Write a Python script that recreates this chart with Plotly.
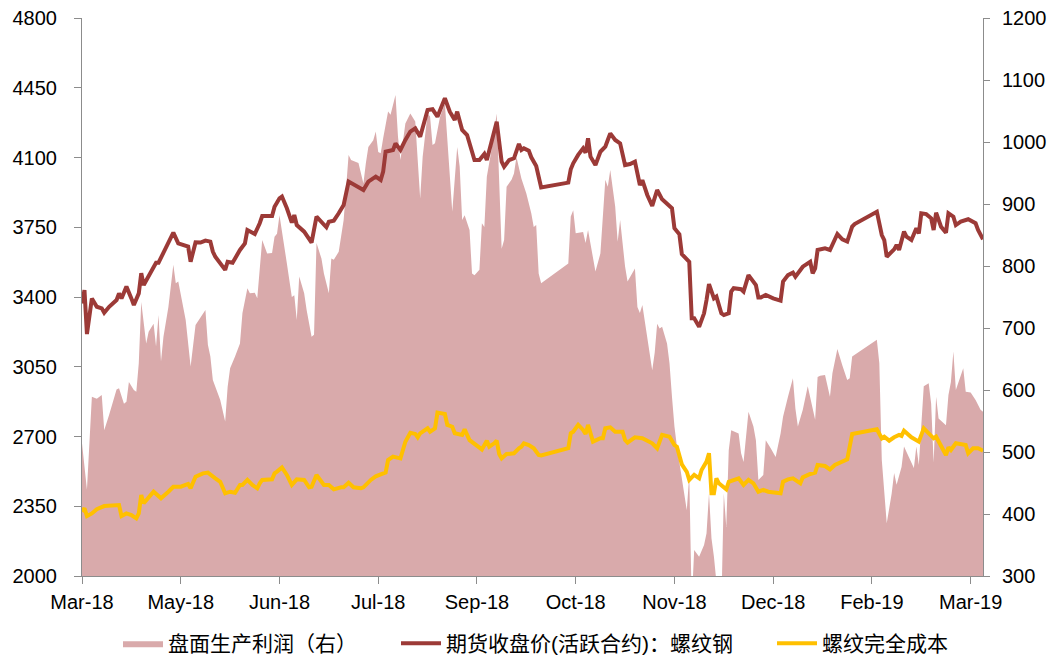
import plotly.graph_objects as go

# ---------------- data ----------------
profit_dates = [
    "2018-03-26", "2018-03-28", "2018-03-30", "2018-04-01", "2018-04-03", "2018-04-04", "2018-04-06",
    "2018-04-09", "2018-04-10", "2018-04-12", "2018-04-13", "2018-04-14", "2018-04-16", "2018-04-17",
    "2018-04-18", "2018-04-19", "2018-04-21", "2018-04-22", "2018-04-24", "2018-04-25", "2018-04-26",
    "2018-04-27", "2018-04-28", "2018-04-30", "2018-05-02", "2018-05-03", "2018-05-04", "2018-05-07",
    "2018-05-09", "2018-05-11", "2018-05-15", "2018-05-16", "2018-05-17", "2018-05-18", "2018-05-21",
    "2018-05-23", "2018-05-24", "2018-05-25", "2018-05-27", "2018-05-29", "2018-05-30", "2018-06-01",
    "2018-06-02", "2018-06-04", "2018-06-05", "2018-06-07", "2018-06-09", "2018-06-11", "2018-06-12",
    "2018-06-13", "2018-06-14", "2018-06-15", "2018-06-17", "2018-06-19", "2018-06-20", "2018-06-21",
    "2018-06-22", "2018-06-24", "2018-06-25", "2018-06-27", "2018-06-28", "2018-06-29", "2018-07-01",
    "2018-07-02", "2018-07-04", "2018-07-05", "2018-07-06", "2018-07-08", "2018-07-09", "2018-07-10",
    "2018-07-12", "2018-07-13", "2018-07-16", "2018-07-18", "2018-07-19", "2018-07-20", "2018-07-22",
    "2018-07-23", "2018-07-24", "2018-07-25", "2018-07-26", "2018-07-28", "2018-07-29", "2018-07-31",
    "2018-08-01", "2018-08-02", "2018-08-04", "2018-08-06", "2018-08-08", "2018-08-10", "2018-08-11",
    "2018-08-13", "2018-08-14", "2018-08-15", "2018-08-16", "2018-08-18", "2018-08-20", "2018-08-23",
    "2018-08-25", "2018-08-26", "2018-08-27", "2018-08-28", "2018-08-30", "2018-08-31", "2018-09-01",
    "2018-09-03", "2018-09-04", "2018-09-05", "2018-09-06", "2018-09-08", "2018-09-10", "2018-09-11",
    "2018-09-12", "2018-09-13", "2018-09-14", "2018-09-16", "2018-09-17", "2018-09-18", "2018-09-20",
    "2018-09-22", "2018-09-24", "2018-09-25", "2018-09-26", "2018-09-27", "2018-09-28", "2018-10-09",
    "2018-10-10", "2018-10-11", "2018-10-12", "2018-10-15", "2018-10-16", "2018-10-17", "2018-10-20",
    "2018-10-22", "2018-10-24", "2018-10-25", "2018-10-26", "2018-10-28", "2018-10-29", "2018-10-30",
    "2018-11-01", "2018-11-02", "2018-11-05", "2018-11-06", "2018-11-07", "2018-11-08", "2018-11-10",
    "2018-11-12", "2018-11-13", "2018-11-14", "2018-11-15", "2018-11-16", "2018-11-18", "2018-11-19",
    "2018-11-20", "2018-11-21", "2018-11-22", "2018-11-24", "2018-11-26", "2018-11-27", "2018-11-28",
    "2018-11-29", "2018-12-01", "2018-12-03", "2018-12-04", "2018-12-05", "2018-12-06", "2018-12-07",
    "2018-12-08", "2018-12-09", "2018-12-10", "2018-12-11", "2018-12-12", "2018-12-13", "2018-12-14",
    "2018-12-17", "2018-12-18", "2018-12-19", "2018-12-21", "2018-12-23", "2018-12-24", "2018-12-25",
    "2018-12-27", "2018-12-28", "2018-12-30", "2019-01-01", "2019-01-03", "2019-01-04", "2019-01-06",
    "2019-01-08", "2019-01-09", "2019-01-10", "2019-01-12", "2019-01-13", "2019-01-14", "2019-01-16",
    "2019-01-17", "2019-01-18", "2019-01-19", "2019-01-21", "2019-01-23", "2019-01-24", "2019-01-26",
    "2019-01-28", "2019-01-30", "2019-01-31", "2019-02-01", "2019-02-11", "2019-02-12", "2019-02-13",
    "2019-02-15", "2019-02-17", "2019-02-18", "2019-02-19", "2019-02-21", "2019-02-22", "2019-02-24",
    "2019-02-26", "2019-02-27", "2019-02-28", "2019-03-02", "2019-03-04", "2019-03-05", "2019-03-06",
    "2019-03-07", "2019-03-08", "2019-03-11", "2019-03-12", "2019-03-13", "2019-03-14", "2019-03-15",
    "2019-03-18", "2019-03-19", "2019-03-21", "2019-03-23", "2019-03-25", "2019-03-26",
]
profit_values = [
    514, 439, 589, 586, 592, 535, 560,
    601, 603, 578, 581, 613, 600, 597,
    643, 742, 675, 694, 707, 670, 721,
    646, 686, 734, 802, 772, 775, 713,
    638, 705, 729, 673, 654, 616, 584,
    549, 605, 635, 654, 675, 724, 764,
    756, 757, 748, 842, 820, 821, 847,
    852, 882, 858, 804, 750, 753, 713,
    783, 756, 729, 686, 689, 837, 812,
    788, 756, 812, 810, 823, 847, 874,
    979, 971, 966, 933, 966, 992, 1003,
    1017, 984, 982, 1006, 1049, 1044, 1076,
    1009, 971, 1030, 1046, 1033, 909, 976,
    1046, 1041, 995, 998, 1040, 1062, 888,
    992, 960, 874, 882, 858, 788, 785,
    794, 869, 863, 944, 990, 1046, 920,
    828, 842, 928, 939, 949, 976, 941,
    917, 885, 863, 866, 788, 772, 804,
    880, 890, 853, 855, 837, 858, 791,
    820, 939, 928, 955, 896, 839, 874,
    799, 775, 796, 734, 724, 737, 686,
    632, 660, 707, 699, 702, 675, 643,
    589, 541, 509, 455, 406, 463, 255,
    342, 331, 350, 369, 433, 361, 331,
    280, 250, 250, 433, 379, 503, 535,
    530, 498, 484, 565, 541, 519, 455,
    463, 519, 506, 492, 530, 557, 589,
    619, 570, 541, 568, 589, 606, 570,
    552, 621, 623, 624, 589, 627, 666,
    640, 616, 619, 654, 681, 643, 487,
    385, 433, 466, 447, 476, 509, 490,
    474, 509, 479, 606, 611, 578, 483,
    589, 554, 543, 592, 613, 662, 600,
    635, 597, 596, 584, 568, 565,
]

futures_dates = [
    "2018-03-26", "2018-03-27", "2018-03-28", "2018-03-30", "2018-04-01", "2018-04-03", "2018-04-04",
    "2018-04-06", "2018-04-09", "2018-04-10", "2018-04-11", "2018-04-13", "2018-04-15", "2018-04-16",
    "2018-04-18", "2018-04-19", "2018-04-20", "2018-04-22", "2018-04-24", "2018-04-25", "2018-04-26",
    "2018-04-28", "2018-04-30", "2018-05-02", "2018-05-04", "2018-05-06", "2018-05-08", "2018-05-09",
    "2018-05-11", "2018-05-13", "2018-05-15", "2018-05-17", "2018-05-18", "2018-05-19", "2018-05-21",
    "2018-05-23", "2018-05-24", "2018-05-26", "2018-05-29", "2018-05-31", "2018-06-01", "2018-06-04",
    "2018-06-06", "2018-06-07", "2018-06-11", "2018-06-12", "2018-06-14", "2018-06-15", "2018-06-17",
    "2018-06-19", "2018-06-20", "2018-06-21", "2018-06-24", "2018-06-26", "2018-06-27", "2018-06-29",
    "2018-07-01", "2018-07-03", "2018-07-04", "2018-07-06", "2018-07-08", "2018-07-10", "2018-07-12",
    "2018-07-15", "2018-07-18", "2018-07-20", "2018-07-23", "2018-07-25", "2018-07-26", "2018-07-27",
    "2018-07-30", "2018-07-31", "2018-08-02", "2018-08-04", "2018-08-06", "2018-08-08", "2018-08-10",
    "2018-08-13", "2018-08-15", "2018-08-17", "2018-08-20", "2018-08-22", "2018-08-24", "2018-08-25",
    "2018-08-27", "2018-08-29", "2018-08-31", "2018-09-01", "2018-09-03", "2018-09-05", "2018-09-06",
    "2018-09-08", "2018-09-10", "2018-09-12", "2018-09-13", "2018-09-15", "2018-09-17", "2018-09-19",
    "2018-09-20", "2018-09-21", "2018-09-23", "2018-09-24", "2018-09-26", "2018-09-28", "2018-10-09",
    "2018-10-10", "2018-10-11", "2018-10-13", "2018-10-15", "2018-10-16", "2018-10-17", "2018-10-18",
    "2018-10-20", "2018-10-22", "2018-10-24", "2018-10-25", "2018-10-26", "2018-10-28", "2018-10-30",
    "2018-11-01", "2018-11-03", "2018-11-05", "2018-11-07", "2018-11-08", "2018-11-10", "2018-11-12",
    "2018-11-14", "2018-11-16", "2018-11-18", "2018-11-20", "2018-11-21", "2018-11-22", "2018-11-23",
    "2018-11-24", "2018-11-26", "2018-11-27", "2018-11-28", "2018-11-29", "2018-12-01", "2018-12-03",
    "2018-12-04", "2018-12-05", "2018-12-07", "2018-12-08", "2018-12-10", "2018-12-11", "2018-12-13",
    "2018-12-14", "2018-12-15", "2018-12-18", "2018-12-19", "2018-12-21", "2018-12-24", "2018-12-25",
    "2018-12-26", "2018-12-28", "2018-12-31", "2019-01-03", "2019-01-04", "2019-01-06", "2019-01-08",
    "2019-01-09", "2019-01-12", "2019-01-15", "2019-01-16", "2019-01-17", "2019-01-18", "2019-01-21",
    "2019-01-23", "2019-01-24", "2019-01-26", "2019-01-28", "2019-01-30", "2019-02-01", "2019-02-02",
    "2019-02-11", "2019-02-13", "2019-02-14", "2019-02-15", "2019-02-18", "2019-02-19", "2019-02-20",
    "2019-02-22", "2019-02-23", "2019-02-25", "2019-02-27", "2019-02-28", "2019-03-01", "2019-03-03",
    "2019-03-05", "2019-03-06", "2019-03-07", "2019-03-09", "2019-03-11", "2019-03-12", "2019-03-14",
    "2019-03-15", "2019-03-17", "2019-03-20", "2019-03-23", "2019-03-24", "2019-03-26",
]
futures_values = [
    3368, 3435, 3214, 3393, 3351, 3343, 3321,
    3351, 3385, 3418, 3393, 3452, 3393, 3360,
    3418, 3519, 3460, 3502, 3552, 3572, 3572,
    3619, 3669, 3723, 3669, 3661, 3653, 3577,
    3674, 3673, 3683, 3678, 3628, 3602, 3569,
    3536, 3577, 3572, 3636, 3669, 3736, 3716,
    3770, 3806, 3806, 3853, 3895, 3904, 3845,
    3773, 3811, 3761, 3728, 3686, 3673, 3803,
    3778, 3750, 3778, 3783, 3820, 3862, 3979,
    3957, 3937, 3979, 4004, 3987, 4029, 4129,
    4138, 4171, 4138, 4188, 4230, 4246, 4204,
    4338, 4342, 4305, 4397, 4330, 4288, 4330,
    4238, 4213, 4121, 4087, 4087, 4118, 4087,
    4179, 4280, 4079, 4054, 4087, 4096, 4168,
    4138, 4146, 4134, 4101, 4057, 3950, 3974,
    4041, 4071, 4113, 4146, 4124, 4196, 4104,
    4062, 4129, 4154, 4188, 4221, 4188, 4171,
    4062, 4067, 4079, 3962, 3987, 3912, 3857,
    3937, 3890, 3870, 3845, 3745, 3728, 3715,
    3615, 3586, 3577, 3293, 3293, 3251, 3318,
    3385, 3465, 3393, 3402, 3318, 3310, 3318,
    3427, 3444, 3439, 3427, 3510, 3460, 3398,
    3398, 3410, 3393, 3382, 3477, 3510, 3522,
    3502, 3552, 3577, 3519, 3544, 3636, 3644,
    3636, 3661, 3716, 3689, 3678, 3753, 3766,
    3828, 3711, 3686, 3602, 3639, 3661, 3636,
    3728, 3703, 3686, 3745, 3719, 3820, 3816,
    3795, 3736, 3823, 3753, 3723, 3820, 3803,
    3761, 3778, 3790, 3770, 3736, 3690,
]

cost_dates = [
    "2018-03-26", "2018-03-27", "2018-03-28", "2018-03-30", "2018-04-01", "2018-04-04", "2018-04-10",
    "2018-04-11", "2018-04-13", "2018-04-15", "2018-04-17", "2018-04-18", "2018-04-19", "2018-04-20",
    "2018-04-24", "2018-04-27", "2018-04-30", "2018-05-02", "2018-05-05", "2018-05-08", "2018-05-09",
    "2018-05-11", "2018-05-14", "2018-05-16", "2018-05-19", "2018-05-21", "2018-05-23", "2018-05-25",
    "2018-05-27", "2018-05-29", "2018-05-30", "2018-06-01", "2018-06-03", "2018-06-05", "2018-06-06",
    "2018-06-07", "2018-06-11", "2018-06-12", "2018-06-13", "2018-06-15", "2018-06-17", "2018-06-19",
    "2018-06-21", "2018-06-24", "2018-06-26", "2018-06-27", "2018-06-29", "2018-07-02", "2018-07-04",
    "2018-07-06", "2018-07-09", "2018-07-10", "2018-07-12", "2018-07-14", "2018-07-17", "2018-07-18",
    "2018-07-21", "2018-07-23", "2018-07-25", "2018-07-27", "2018-07-28", "2018-07-30", "2018-08-02",
    "2018-08-04", "2018-08-06", "2018-08-08", "2018-08-09", "2018-08-10", "2018-08-13", "2018-08-14",
    "2018-08-16", "2018-08-17", "2018-08-20", "2018-08-21", "2018-08-23", "2018-08-24", "2018-08-27",
    "2018-08-28", "2018-08-30", "2018-09-02", "2018-09-04", "2018-09-06", "2018-09-07", "2018-09-09",
    "2018-09-10", "2018-09-11", "2018-09-12", "2018-09-14", "2018-09-17", "2018-09-19", "2018-09-20",
    "2018-09-21", "2018-09-23", "2018-09-25", "2018-09-27", "2018-09-28", "2018-10-09", "2018-10-10",
    "2018-10-11", "2018-10-13", "2018-10-15", "2018-10-16", "2018-10-17", "2018-10-19", "2018-10-22",
    "2018-10-23", "2018-10-24", "2018-10-26", "2018-10-28", "2018-10-31", "2018-11-01", "2018-11-02",
    "2018-11-05", "2018-11-08", "2018-11-12", "2018-11-14", "2018-11-16", "2018-11-19", "2018-11-21",
    "2018-11-22", "2018-11-23", "2018-11-24", "2018-11-26", "2018-11-27", "2018-11-29", "2018-12-01",
    "2018-12-02", "2018-12-04", "2018-12-05", "2018-12-06", "2018-12-07", "2018-12-08", "2018-12-09",
    "2018-12-12", "2018-12-13", "2018-12-15", "2018-12-17", "2018-12-19", "2018-12-21", "2018-12-23",
    "2018-12-25", "2018-12-27", "2018-12-29", "2019-01-03", "2019-01-04", "2019-01-06", "2019-01-08",
    "2019-01-11", "2019-01-12", "2019-01-15", "2019-01-17", "2019-01-18", "2019-01-21", "2019-01-23",
    "2019-01-25", "2019-01-30", "2019-01-31", "2019-02-01", "2019-02-11", "2019-02-13", "2019-02-14",
    "2019-02-16", "2019-02-18", "2019-02-20", "2019-02-21", "2019-02-22", "2019-02-25", "2019-02-28",
    "2019-03-02", "2019-03-04", "2019-03-06", "2019-03-07", "2019-03-09", "2019-03-11", "2019-03-12",
    "2019-03-13", "2019-03-15", "2019-03-19", "2019-03-20", "2019-03-22", "2019-03-24", "2019-03-26",
]
cost_values = [
    2323, 2340, 2301, 2314, 2335, 2351, 2356,
    2301, 2314, 2306, 2289, 2314, 2406, 2365,
    2423, 2390, 2423, 2448, 2448, 2462, 2440,
    2498, 2515, 2519, 2490, 2473, 2415, 2423,
    2418, 2457, 2457, 2482, 2457, 2440, 2465,
    2482, 2485, 2515, 2524, 2545, 2507, 2457,
    2485, 2482, 2445, 2448, 2507, 2457, 2457,
    2435, 2445, 2445, 2468, 2445, 2440, 2445,
    2482, 2500, 2510, 2519, 2582, 2599, 2590,
    2674, 2719, 2713, 2696, 2716, 2741, 2724,
    2741, 2820, 2813, 2758, 2749, 2716, 2708,
    2736, 2682, 2657, 2635, 2679, 2649, 2666,
    2679, 2612, 2590, 2612, 2616, 2641, 2649,
    2666, 2657, 2641, 2607, 2605, 2641, 2716,
    2724, 2758, 2733, 2713, 2758, 2674, 2691,
    2691, 2741, 2746, 2724, 2724, 2682, 2669,
    2696, 2691, 2666, 2641, 2708, 2699, 2657,
    2649, 2600, 2560, 2523, 2482, 2507, 2490,
    2532, 2574, 2616, 2415, 2415, 2490, 2465,
    2435, 2473, 2482, 2490, 2457, 2482, 2465,
    2423, 2432, 2423, 2415, 2473, 2485, 2490,
    2465, 2495, 2512, 2519, 2557, 2552, 2535,
    2557, 2585, 2649, 2713, 2736, 2691, 2699,
    2679, 2696, 2708, 2703, 2729, 2696, 2674,
    2741, 2716, 2691, 2699, 2649, 2607, 2646,
    2632, 2666, 2657, 2616, 2641, 2641, 2629,
]

series_names = ["盘面生产利润（右）", "期货收盘价(活跃合约)：螺纹钢", "螺纹完全成本"]

left_ticks = [2000, 2350, 2700, 3050, 3400, 3750, 4100, 4450, 4800]
right_ticks = [300, 400, 500, 600, 700, 800, 900, 1000, 1100, 1200]

# ---------------- styles ----------------
PINK = "#D9AAAB"
RED = "#9C3A37"
GOLD = "#FFC000"
AXIS = "#8C8C8C"
FONT = "Liberation Sans, Arial, Noto Sans CJK SC, sans-serif"
LEGEND_FONT = "Liberation Sans, Noto Sans CJK SC, sans-serif"

fig = go.Figure()

fig.add_trace(go.Scatter(
    x=profit_dates, y=profit_values, name=series_names[0], yaxis="y",
    mode="lines", line=dict(width=0, color=PINK), fill="tozeroy", fillcolor=PINK,
    legend="legend",
))
fig.add_trace(go.Scatter(
    x=futures_dates, y=futures_values, name=series_names[1], yaxis="y2",
    mode="lines", line=dict(width=4, color=RED), legend="legend2",
))
fig.add_trace(go.Scatter(
    x=cost_dates, y=cost_values, name=series_names[2], yaxis="y2",
    mode="lines", line=dict(width=4, color=GOLD), legend="legend3",
))

legend_common = dict(
    orientation="h", yanchor="middle", y=-0.121, xanchor="left",
    font=dict(family=LEGEND_FONT, size=21, color="#000000"),
    bgcolor="rgba(0,0,0,0)", itemwidth=40, itemclick=False, itemdoubleclick=False,
)

fig.update_layout(
    width=1055, height=662,
    margin=dict(l=82, r=72, t=18, b=86, autoexpand=False),
    paper_bgcolor="#FFFFFF", plot_bgcolor="#FFFFFF",
    font=dict(family=FONT, size=20, color="#000000"),
    showlegend=True,
    legend=dict(x=(118 - 82) / 901, **legend_common),
    legend2=dict(x=(396 - 82) / 901, **legend_common),
    legend3=dict(x=(772 - 82) / 901, **legend_common),
    xaxis=dict(
        type="date", range=["2018-03-26", "2019-03-26"],
        tick0="2018-03-26", dtick=40 * 86400000, tickformat="%b-%y",
        ticks="outside", ticklen=7, tickcolor=AXIS, tickwidth=1,
        showline=True, linecolor=AXIS, linewidth=1, automargin=False,
        showgrid=False, zeroline=False, ticklabelstandoff=1,
        tickfont=dict(size=20),
    ),
    yaxis=dict(
        side="right", range=[300, 1200], tickmode="array", tickvals=right_ticks,
        ticks="outside", ticklen=6, tickcolor=AXIS, tickwidth=1,
        showline=True, linecolor=AXIS, linewidth=1, automargin=False,
        showgrid=False, zeroline=False, ticklabelstandoff=8,
        tickfont=dict(size=20),
    ),
    yaxis2=dict(
        overlaying="y", side="left", range=[2000, 4800], tickmode="array", tickvals=left_ticks,
        ticks="outside", ticklen=7, tickcolor=AXIS, tickwidth=1,
        showline=True, linecolor=AXIS, linewidth=1, automargin=False,
        showgrid=False, zeroline=False, ticklabelstandoff=13,
        tickfont=dict(size=20),
    ),
    hovermode=False,
)

fig.write_html(
    "out.html",
    config={"displayModeBar": False},
    post_script="document.body.style.margin='0';",
)
